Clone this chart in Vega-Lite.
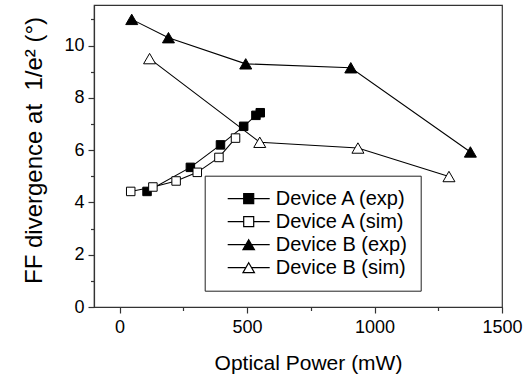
{
  "$schema": "https://vega.github.io/schema/vega-lite/v6.json",
  "width": 408,
  "height": 302,
  "autosize": "none",
  "padding": {"left": 94, "top": 5, "right": 29, "bottom": 71},
  "background": "white",
  "config": {
    "font": "Liberation Sans",
    "view": {"stroke": "#333", "strokeWidth": 1.2},
    "axis": {"domainColor": "#333", "tickColor": "#333", "labelColor": "black", "titleColor": "black", "grid": false, "domainWidth": 1.2, "tickWidth": 1.2, "titleFontWeight": "normal", "labelFont": "Liberation Sans", "titleFont": "Liberation Sans"},
    "legend": {"labelFont": "Liberation Sans"}
  },
  "data": {
    "values": [
      {"series": "Device A (exp)", "power": 108, "ff": 4.42},
      {"series": "Device A (exp)", "power": 278, "ff": 5.34},
      {"series": "Device A (exp)", "power": 396, "ff": 6.2},
      {"series": "Device A (exp)", "power": 487, "ff": 6.91},
      {"series": "Device A (exp)", "power": 535, "ff": 7.33},
      {"series": "Device A (exp)", "power": 552, "ff": 7.43},
      {"series": "Device A (sim)", "power": 44, "ff": 4.42},
      {"series": "Device A (sim)", "power": 131, "ff": 4.59},
      {"series": "Device A (sim)", "power": 222, "ff": 4.82},
      {"series": "Device A (sim)", "power": 305, "ff": 5.15},
      {"series": "Device A (sim)", "power": 390, "ff": 5.72},
      {"series": "Device A (sim)", "power": 455, "ff": 6.46},
      {"series": "Device B (exp)", "power": 48, "ff": 11.0},
      {"series": "Device B (exp)", "power": 192, "ff": 10.3},
      {"series": "Device B (exp)", "power": 495, "ff": 9.3},
      {"series": "Device B (exp)", "power": 907, "ff": 9.15},
      {"series": "Device B (exp)", "power": 1376, "ff": 5.93},
      {"series": "Device B (sim)", "power": 118, "ff": 9.5},
      {"series": "Device B (sim)", "power": 550, "ff": 6.3},
      {"series": "Device B (sim)", "power": 935, "ff": 6.08},
      {"series": "Device B (sim)", "power": 1292, "ff": 4.99}
    ]
  },
  "layer": [
    {
      "mark": {"type": "line", "color": "black", "strokeWidth": 1.1},
      "encoding": {
        "x": {"field": "power", "type": "quantitative", "scale": {"domain": [-100, 1500], "nice": false, "zero": false},
          "axis": {"values": [0, 500, 1000, 1500], "format": "d", "tickSize": 6, "labelFontSize": 18, "labelPadding": 5, "labelFlush": false, "labelOverlap": false, "title": "Optical Power (mW)", "titleFontSize": 21, "titleX": 214, "titleY": 62, "titleBaseline": "alphabetic", "orient": "bottom"}},
        "y": {"field": "ff", "type": "quantitative", "scale": {"domain": [0, 11.55], "nice": false, "zero": false},
          "axis": {"values": [0, 2, 4, 6, 8, 10], "tickSize": 6, "labelFontSize": 18, "labelPadding": 4, "title": "FF divergence at\u00a0\u00a01/e² (°)", "titleFontSize": 24, "titleX": -48, "titleY": 145, "titleAngle": -90, "titleBaseline": "bottom", "orient": "left"}},
        "detail": {"field": "series", "type": "nominal"}
      }
    },
    {
      "mark": {"type": "point", "filled": true, "stroke": "black", "strokeWidth": 1, "size": 100, "opacity": 1},
      "encoding": {
        "x": {"field": "power", "type": "quantitative",
          "axis": {"values": [250, 750, 1250], "tickSize": 3.5, "labels": false, "domain": false, "title": null, "orient": "bottom"}},
        "y": {"field": "ff", "type": "quantitative",
          "axis": {"values": [1, 3, 5, 7, 9, 11], "tickSize": 3.5, "labels": false, "domain": false, "title": null, "orient": "left"}},
        "shape": {"field": "series", "type": "nominal", "legend": null,
          "scale": {"domain": ["Device A (exp)", "Device A (sim)", "Device B (exp)", "Device B (sim)"],
            "range": ["M-0.85,-0.85H0.85V0.85H-0.85Z", "M-0.85,-0.85H0.85V0.85H-0.85Z", "M0,-1.04L1.2,1.04H-1.2Z", "M0,-1.04L1.2,1.04H-1.2Z"]}},
        "fill": {"field": "series", "type": "nominal", "legend": null,
          "scale": {"domain": ["Device A (exp)", "Device A (sim)", "Device B (exp)", "Device B (sim)"],
            "range": ["black", "white", "black", "white"]}}
      }
    },
    {
      "transform": [{"filter": "false"}],
      "mark": {"type": "point", "filled": true, "strokeWidth": 1.2, "size": 100, "opacity": 1},
      "encoding": {
        "x": {"field": "power", "type": "quantitative", "axis": null},
        "y": {"field": "ff", "type": "quantitative", "axis": null},
        "shape": {"field": "series", "type": "nominal",
          "scale": {"domain": ["Device A (exp)", "Device A (sim)", "Device B (exp)", "Device B (sim)"],
            "range": ["M0,0H3.2M5.2,0H8.4M3.2,-1H5.2V1H3.2Z", "M0,0H3.2M5.2,0H8.4M3.2,-1H5.2V1H3.2Z", "M0,0H3.625M4.775,0H8.4M4.2,-1L5.35,1H3.05Z", "M0,0H3.625M4.775,0H8.4M4.2,-1L5.35,1H3.05Z"]},
          "legend": {"title": null, "orient": "none", "legendX": 110.7, "legendY": 170.7, "padding": 13, "strokeColor": "#222", "fillColor": "white", "labelFontSize": 20, "labelOffset": 38, "symbolSize": 100, "symbolStrokeWidth": 1.2, "rowPadding": 3, "labelLimit": 300}},
        "fill": {"field": "series", "type": "nominal",
          "scale": {"domain": ["Device A (exp)", "Device A (sim)", "Device B (exp)", "Device B (sim)"],
            "range": ["black", "white", "black", "white"]},
          "legend": {"title": null, "orient": "none", "legendX": 110.7, "legendY": 170.7, "padding": 13, "strokeColor": "#222", "fillColor": "white", "labelFontSize": 20, "labelOffset": 38, "symbolSize": 100, "symbolStrokeWidth": 1.2, "rowPadding": 3, "labelLimit": 300}},
        "stroke": {"field": "series", "type": "nominal",
          "scale": {"domain": ["Device A (exp)", "Device A (sim)", "Device B (exp)", "Device B (sim)"],
            "range": ["black", "black", "black", "black"]},
          "legend": {"title": null, "orient": "none", "legendX": 110.7, "legendY": 170.7, "padding": 13, "strokeColor": "#222", "fillColor": "white", "labelFontSize": 20, "labelOffset": 38, "symbolSize": 100, "symbolStrokeWidth": 1.2, "rowPadding": 3, "labelLimit": 300}}
      }
    }
  ],
  "resolve": {"scale": {"shape": "independent", "fill": "independent", "stroke": "independent"}, "axis": {"x": "independent", "y": "independent"}}
}
